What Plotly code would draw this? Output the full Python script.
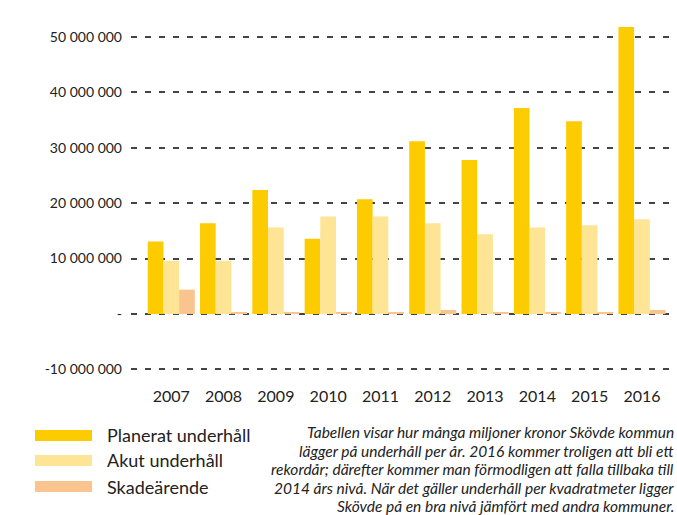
import plotly.graph_objects as go

years = ["2007", "2008", "2009", "2010", "2011", "2012", "2013", "2014", "2015", "2016"]
planerat = [13.1e6, 16.4e6, 22.4e6, 13.6e6, 20.7e6, 31.2e6, 27.8e6, 37.2e6, 34.8e6, 51.8e6]
akut = [9.6e6, 9.6e6, 15.6e6, 17.6e6, 17.6e6, 16.4e6, 14.4e6, 15.6e6, 16.0e6, 17.1e6]
skade = [4.4e6, 0.36e6, 0.36e6, 0.36e6, 0.36e6, 0.73e6, 0.36e6, 0.36e6, 0.36e6, 0.73e6]
series_names = ["Planerat underhåll", "Akut underhåll", "Skadeärende"]
tick_vals = [-10e6, 0, 10e6, 20e6, 30e6, 40e6, 50e6]
tick_text = ["-10 000 000", "-", "10 000 000", "20 000 000", "30 000 000", "40 000 000", "50 000 000"]
caption_lines = [
    "Tabellen visar hur många miljoner kronor Skövde kommun",
    "lägger på underhåll per år. 2016 kommer troligen att bli ett",
    "rekordår; därefter kommer man förmodligen att falla tillbaka till",
    "2014 års nivå. När det gäller underhåll per kvadratmeter ligger",
    "Skövde på en bra nivå jämfört med andra kommuner.",
]

colors = ["#FCCC00", "#FEE495", "#FAC48E"]
W, H = 677, 515
# target plot box (in screenshot px)
PL, PR, PT, PB = 131, 677, 10, 372
L, R, T, B = PL, W - PR, PT, H - PB
PW, PH = W - L - R, H - T - B
FONT = "Lato"


def px_x(px):
    return (px - L) / PW


def px_y(py):
    return (H - B - py) / PH


fig = go.Figure()
for name, vals, col in zip(series_names, [planerat, akut, skade], colors):
    fig.add_trace(go.Bar(x=years, y=vals, name=name, marker=dict(color=col, line=dict(width=0)),
                         showlegend=False))

fig.update_layout(
    width=W, height=H,
    margin=dict(l=L, r=R, t=T, b=B),
    paper_bgcolor="white", plot_bgcolor="white",
    barmode="group", bargap=0.10, bargroupgap=0,
    font=dict(family=FONT, color="#222222"),
    xaxis=dict(type="category", range=[-0.77, 9.67], showgrid=False, zeroline=False,
               showline=False, ticks="", tickfont=dict(size=16, color="#222222"),
               ticklabelstandoff=13),
    yaxis=dict(range=[-10.47e6, 54.87e6], tickvals=tick_vals, ticktext=tick_text,
               showgrid=True, gridcolor="#444444", gridwidth=1.5, griddash="6px,8px",
               zeroline=False, showline=False, ticks="", tickfont=dict(size=14, color="#222222"),
               ticklabelstandoff=8),
)

legend_rows = [435.5, 460.5, 486.5]
shapes = []
annotations = []
for name, col, yc in zip(series_names, colors, legend_rows):
    shapes.append(dict(type="rect", xref="paper", yref="paper",
                       x0=px_x(35), x1=px_x(92), y0=px_y(yc + 5.5), y1=px_y(yc - 5.5),
                       fillcolor=col, line=dict(width=0)))
    annotations.append(dict(text=name, xref="paper", yref="paper", x=px_x(105), y=px_y(yc),
                            xanchor="left", yanchor="middle", showarrow=False,
                            font=dict(size=18, color="#222222", family=FONT)))

caption_y = [432, 450.5, 469, 487.5, 505.5]
for line, yc in zip(caption_lines, caption_y):
    annotations.append(dict(text="<i>" + line + "</i>", xref="paper", yref="paper",
                            x=px_x(676), y=px_y(yc), xanchor="right", yanchor="middle",
                            showarrow=False, font=dict(size=15.5, color="#222222", family=FONT)))

fig.update_layout(shapes=shapes, annotations=annotations)
fig.write_html("out.html", config={"displayModeBar": False},
               post_script="document.body.style.margin='0';document.body.style.overflow='hidden';")
